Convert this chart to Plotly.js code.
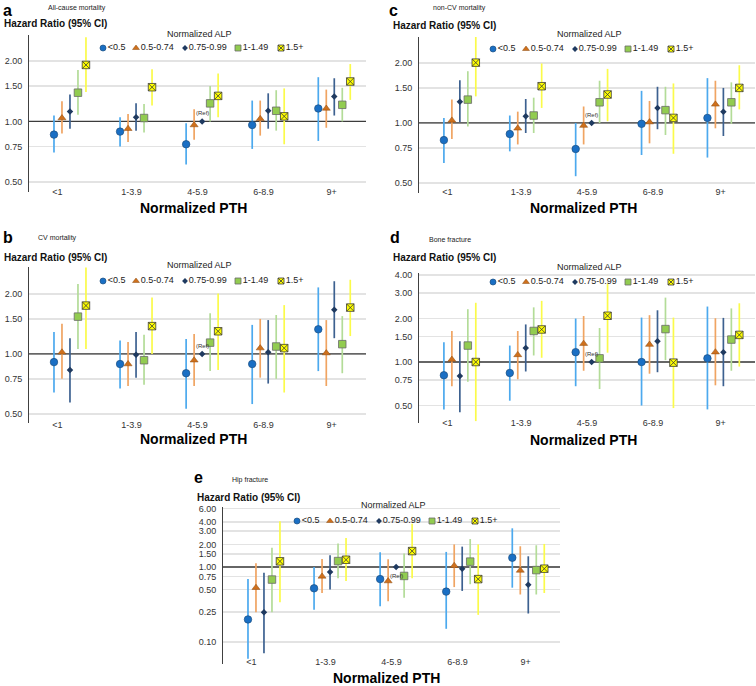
<!DOCTYPE html>
<html><head><meta charset="utf-8">
<script src="https://cdn.plot.ly/plotly-3.0.1.min.js"></script>
<style>html,body{margin:0;padding:0;background:#fff}#chart{width:756px;height:686px}</style>
</head><body><div id="chart"></div>
<script>
// ---------------- DATA ----------------
const pthGroups = ['<1', '1-3.9', '4-5.9', '6-8.9', '9+'];
const alpSeries = ['<0.5', '0.5-0.74', '0.75-0.99', '1-1.49', '1.5+'];

// rows = ALP series (<0.5, 0.5-0.74, 0.75-0.99, 1-1.49, 1.5+), cols = PTH groups
const allCauseHR = [[0.86,0.89,0.77,0.96,1.16],[1.04,0.92,0.96,1.03,1.16],[1.12,1.05,1.00,1.13,1.33],[1.39,1.04,1.23,1.13,1.21],[1.91,1.48,1.34,1.06,1.58]];
const allCauseLo = [[0.70,0.75,0.61,0.73,0.80],[0.87,0.79,0.81,0.85,0.93],[0.92,0.90,1.00,0.92,1.07],[1.08,0.88,1.00,0.90,1.00],[1.40,1.20,1.05,0.77,1.28]];
const allCauseHi = [[1.07,1.05,0.98,1.27,1.66],[1.26,1.09,1.15,1.27,1.44],[1.36,1.23,1.00,1.38,1.64],[1.80,1.22,1.50,1.43,1.47],[2.62,1.82,1.73,1.46,1.93]];

const cvHR = [[0.91,0.89,0.80,0.89,1.33],[1.02,0.89,0.93,1.07,1.01],[0.83,0.99,1.00,1.02,1.67],[1.54,0.93,1.14,1.09,1.12],[1.75,1.38,1.30,1.07,1.71]];
const cvLo = [[0.64,0.67,0.53,0.56,0.82],[0.75,0.69,0.69,0.76,0.69],[0.57,0.76,1.00,0.71,1.20],[1.06,0.70,0.82,0.75,0.80],[1.06,1.00,0.83,0.64,1.23]];
const cvHi = [[1.29,1.17,1.19,1.40,2.16],[1.42,1.15,1.26,1.50,1.48],[1.20,1.29,1.00,1.48,2.32],[2.25,1.25,1.60,1.57,1.55],[2.72,1.92,2.01,1.76,2.36]];

const nonCvHR = [[0.82,0.88,0.74,0.99,1.06],[1.03,0.94,0.97,1.01,1.24],[1.28,1.08,1.00,1.19,1.14],[1.31,1.09,1.27,1.16,1.27],[2.01,1.53,1.39,1.06,1.50]];
const nonCvLo = [[0.63,0.72,0.54,0.69,0.67],[0.83,0.78,0.78,0.79,0.94],[1.01,0.89,1.00,0.93,0.86],[0.96,0.89,1.00,0.87,0.99],[1.36,1.19,1.02,0.70,1.17]];
const nonCvHi = [[1.06,1.09,1.00,1.45,1.68],[1.31,1.14,1.21,1.29,1.63],[1.64,1.32,1.00,1.52,1.50],[1.82,1.34,1.63,1.52,1.60],[2.72,1.99,1.87,1.58,1.95]];

const boneHR = [[0.81,0.84,1.17,1.00,1.06],[1.04,1.12,1.34,1.32,1.17],[0.80,1.25,1.00,1.39,1.17],[1.30,1.64,1.06,1.69,1.43],[1.00,1.68,2.09,0.99,1.54]];
const boneLo = [[0.47,0.54,0.68,0.50,0.47],[0.68,0.76,0.87,0.83,0.69],[0.45,0.86,1.00,0.85,0.68],[0.73,1.11,0.65,1.03,0.87],[0.39,1.07,1.16,0.48,0.93]];
const boneHi = [[1.37,1.30,2.00,2.03,2.42],[1.64,1.64,2.08,2.11,2.01],[1.39,1.82,1.00,2.28,2.02],[2.32,2.39,1.72,2.79,2.35],[2.57,2.65,3.49,2.03,2.55]];

const hipHR = [[0.20,0.52,0.69,0.47,1.33],[0.53,0.75,0.65,1.04,0.90],[0.25,0.86,1.00,0.95,0.58],[0.68,1.20,0.76,1.18,0.91],[1.19,1.25,1.63,0.69,0.95]];
const hipLo = [[0.06,0.27,0.30,0.15,0.53],[0.25,0.45,0.35,0.54,0.43],[0.071,0.50,1.00,0.48,0.24],[0.25,0.71,0.39,0.59,0.43],[0.34,0.65,0.71,0.23,0.45]];
const hipHi = [[0.69,1.00,1.57,1.59,3.28],[1.12,1.28,1.27,2.00,1.89],[0.84,1.43,1.00,1.87,1.39],[1.81,2.05,1.51,2.36,1.95],[4.06,2.44,3.78,2.00,2.03]];

const ticksStd = [0.5, 0.75, 1, 1.5, 2];
const ticksBone = [0.5, 0.75, 1, 1.5, 2, 3, 4];
const ticksHip = [0.1, 0.25, 0.5, 0.75, 1, 1.5, 2, 3, 4, 6];
const refHR = 1;
const refGroup = 2, refSeries = 2;

// ---------------- LAYOUT / STYLE ----------------
const W = 756, H = 686;
const FONT = 'Liberation Sans, Arial, sans-serif';
const styles = [
  {symbol:'circle', size:7.5, lsize:6, color:'#1a6fc4', line:{color:'#1d4f80', width:0.7}, err:'#4ca9ee'},
  {symbol:'triangle-up', size:7, lsize:6, color:'#cf701c', line:{color:'#8a4a10', width:0.5}, err:'#f0a462'},
  {symbol:'diamond', size:5, lsize:4.5, color:'#1f3a60', line:{color:'#1f3a60', width:0}, err:'#3d6190'},
  {symbol:'square', size:7.5, lsize:6, color:'#92cc50', line:{color:'#6a6a6a', width:0.8}, err:'#b3dc98'},
  {symbol:'square-x', size:7.5, lsize:6, color:'#ffff00', line:{color:'#3a3a3a', width:0.8}, err:'#fbfb4a'}
];
const seriesOffset = 0.121;
const xRange = [-0.62, 4.48];
const tickPos = [-0.19, 0.93, 1.93, 2.93, 3.96];
const legendDx = [74, 107, 156, 209, 252];

const panels = [
  {letter:'a', sub:'All-cause mortality', hr:allCauseHR, lo:allCauseLo, hi:allCauseHi, ticks:ticksStd,
   l:29, r:366, t:35, b:192, yr:[-0.351,0.430], labelY:192, legY:48, alpY:34, hzY:24, hzX:2,
   letX:1, letTop:0, subX:46, subY:8, pthY:208, refShift:8, bTick:null},
  {letter:'b', sub:'CV mortality', hr:cvHR, lo:cvLo, hi:cvHi, ticks:ticksStd,
   l:29, r:366, t:267, b:423, yr:[-0.347,0.437], labelY:425, legY:281, alpY:265, hzY:257, hzX:2,
   letX:1, letTop:227, subX:36, subY:238, pthY:439, refShift:8, bTick:null},
  {letter:'c', sub:'non-CV mortality', hr:nonCvHR, lo:nonCvLo, hi:nonCvHi, ticks:ticksStd,
   l:419, r:755, t:37, b:193, yr:[-0.352,0.432], labelY:192, legY:49, alpY:34, hzY:25, hzX:391,
   letX:387, letTop:0, subX:431, subY:8, pthY:208, refShift:8, bTick:0.38},
  {letter:'d', sub:'Bone fracture', hr:boneHR, lo:boneLo, hi:boneHi, ticks:ticksBone,
   l:419, r:755, t:273, b:423, yr:[-0.422,0.616], labelY:423, legY:282, alpY:267, hzY:257, hzX:391,
   letX:388, letTop:227, subX:427, subY:239, pthY:440, refShift:8, bTick:0.38},
  {letter:'e', sub:'Hip fracture', hr:hipHR, lo:hipLo, hi:hipHi, ticks:ticksHip,
   l:223, r:560, t:507, b:664, yr:[-1.293,0.80], labelY:662, legY:521, alpY:505, hzY:497, hzX:195,
   letX:192, letTop:467, subX:230, subY:480, pthY:678, refShift:-9, bTick:0.53}
];

const px = v => v / W;
const py = v => 1 - v / H;

const data = [];
const layout = {
  width: W, height: H, margin:{l:0,r:0,t:0,b:0}, showlegend:false,
  paper_bgcolor:'#fff', plot_bgcolor:'rgba(0,0,0,0)',
  font:{family:FONT, color:'#222', size:9},
  annotations: [], shapes: []
};

panels.forEach((p, k) => {
  const n = k + 1;
  const xs = n === 1 ? '' : String(n);
  const xId = 'x' + xs, yId = 'y' + xs;
  layout['xaxis' + xs] = {
    domain:[px(p.l), px(p.r)], range:xRange, anchor:'free', position: py(p.labelY - 7.5),
    tickvals: tickPos, ticktext: pthGroups, ticks:'', showgrid:false, zeroline:false, showline:false,
    tickfont:{size:9, color:'#333', family:FONT}, fixedrange:true
  };
  layout['yaxis' + xs] = {
    domain:[py(p.b), py(p.t)], type:'log', range:p.yr, anchor:xId,
    tickvals:p.ticks, ticktext:p.ticks.map(v => v.toFixed(2)), ticks:'',
    showline:true, linecolor:'#404040', linewidth:1, showgrid:true, gridcolor:'#e3e3e3', gridwidth:1.5,
    zeroline:false, tickfont:{size:9, color:'#333', family:FONT}, ticklabelstandoff:4, fixedrange:true
  };
  // reference line at HR = 1 (drawn first so markers sit above it)
  data.push({type:'scatter', mode:'lines', xaxis:xId, yaxis:yId, x:xRange, y:[refHR, refHR],
    line:{color:'#3c3c3c', width:1.3}, hoverinfo:'skip'});
  styles.forEach((st, s) => {
    const y = p.hr[s];
    data.push({
      type:'scatter', mode:'markers', xaxis:xId, yaxis:yId,
      x: pthGroups.map((g, i) => i + (s - 2) * seriesOffset),
      y: y,
      error_y: {type:'data', symmetric:false,
        array: y.map((v, i) => p.hi[s][i] - v),
        arrayminus: y.map((v, i) => v - p.lo[s][i]),
        color: st.err, thickness: 1.7, width: 0},
      marker:{symbol:st.symbol, size:st.size, color:st.color, line:st.line},
      hoverinfo:'skip', cliponaxis:false, name: alpSeries[s]
    });
  });
  if (p.bTick !== null) {
    const pxPerDec = (p.b - p.t) / (p.yr[1] - p.yr[0]);
    pthGroups.forEach((g, i) => {
      layout.shapes.push({type:'line', xref:xId, x0:i + p.bTick, x1:i + p.bTick, yref:yId,
        y0:0, y1:-4 / pxPerDec, line:{color:'#707070', width:1}, layer:'above'});
    });
  }
  const A = layout.annotations;
  A.push({xref:'paper', yref:'paper', x:px(p.letX), y:py(p.letTop), xanchor:'left', yanchor:'top',
    text:'<b>' + p.letter + '</b>', showarrow:false, font:{size:16, color:'#000', family:FONT}});
  A.push({xref:'paper', yref:'paper', x:px(p.subX), y:py(p.subY), xanchor:'left', yanchor:'middle',
    text:p.sub, showarrow:false, font:{size:7, color:'#222', family:FONT}});
  A.push({xref:'paper', yref:'paper', x:px(p.hzX), y:py(p.hzY), xanchor:'left', yanchor:'middle',
    text:'<b>Hazard Ratio (95% CI)</b>', showarrow:false, font:{size:10, color:'#111', family:FONT}});
  A.push({xref:'paper', yref:'paper', x:px(p.l + 170), y:py(p.alpY), xanchor:'center', yanchor:'middle',
    text:'Normalized ALP', showarrow:false, font:{size:9, color:'#222', family:FONT}});
  A.push({xref:'paper', yref:'paper', x:px(p.l + 164), y:py(p.pthY), xanchor:'center', yanchor:'middle',
    text:'<b>Normalized PTH</b>', showarrow:false, font:{size:14, color:'#000', family:FONT}});
  A.push({xref:xId, yref:yId, x:refGroup + (refSeries - 2) * seriesOffset, y:Math.log10(p.hr[refSeries][refGroup]),
    yshift:p.refShift, xanchor:'center', yanchor:'middle', text:'(Ref)', showarrow:false,
    font:{size:6, color:'#333', family:FONT}});
});

// overlay pixel-space axes for the per-panel "Normalized ALP" keys
layout.xaxis6 = {domain:[0,1], range:[0,W], visible:false, fixedrange:true, anchor:'y6'};
layout.yaxis6 = {domain:[0,1], range:[H,0], visible:false, fixedrange:true, anchor:'x6'};
styles.forEach((st, s) => {
  data.push({
    type:'scatter', mode:'markers+text', xaxis:'x6', yaxis:'y6',
    x: panels.map(p => p.l + legendDx[s]), y: panels.map(p => p.legY),
    text: panels.map(() => alpSeries[s]), textposition:'middle right',
    textfont:{size:9, color:'#222', family:FONT},
    marker:{symbol:st.symbol, size:st.lsize, color:st.color, line:st.line},
    hoverinfo:'skip', cliponaxis:false
  });
});

Plotly.newPlot('chart', data, layout, {staticPlot:true, displayModeBar:false});
</script>
</body></html>
